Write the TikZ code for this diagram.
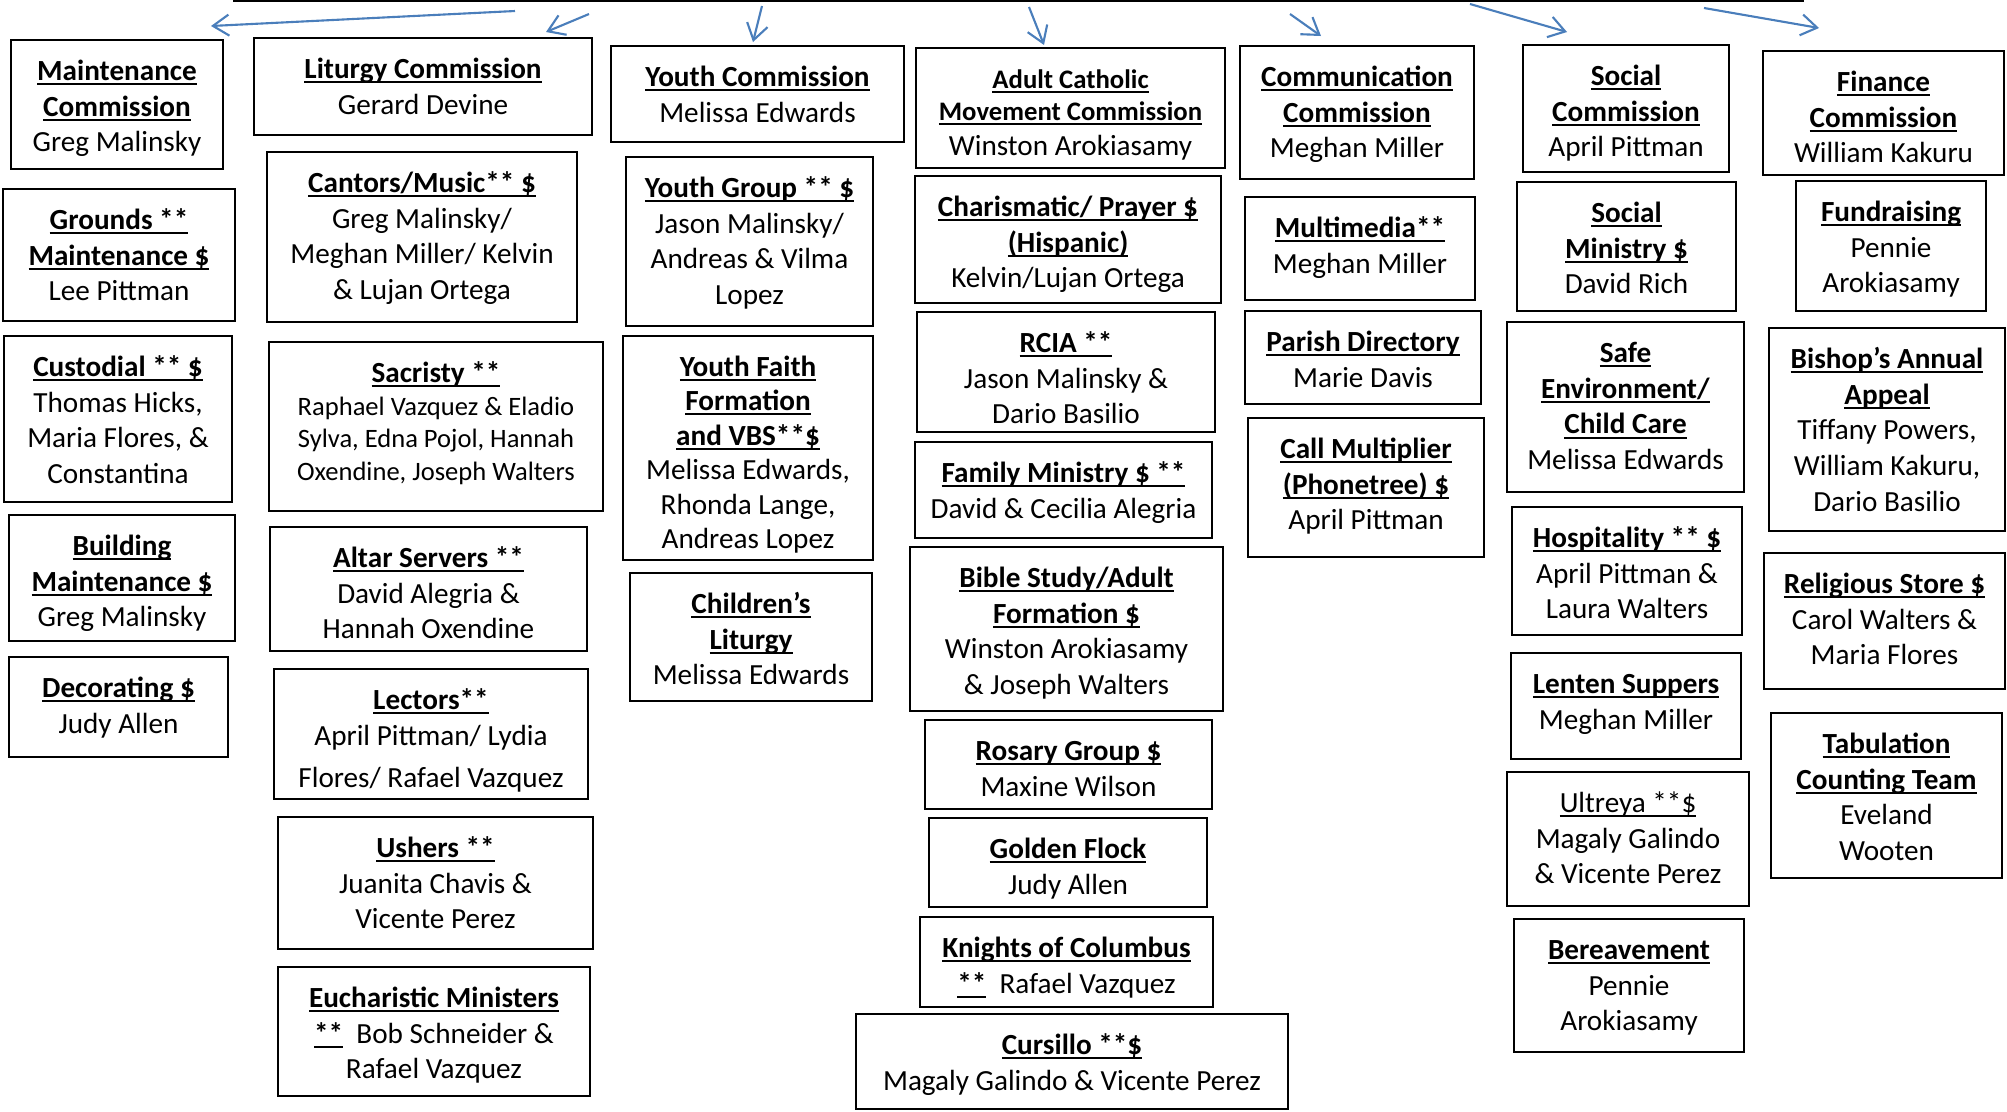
\documentclass[tikz,border=0pt]{standalone}
\usepackage{fontspec}
\setmainfont{Carlito}
\usetikzlibrary{arrows.meta,fit}
\definecolor{arrowblue}{RGB}{74,126,187}
\newcommand\undl[1]{\setbox0=\hbox{#1}\rlap{\rule[-1.3pt]{\wd0}{0.5pt}}\box0}
\newcommand\ut[1]{\undl{\textbf{#1}}}
\newcommand\utr[1]{\undl{#1}}
\newcommand\bx[6]{%
  \node[boxst, fit={(#2,#3)(#4,#5)}] (#1) {};
  \node[txtst, anchor=north] (#1t) at ([yshift=-0.16cm]#1.north) {\rule{0pt}{7pt}#6};
}
\begin{document}
\begin{tikzpicture}[x=0.01cm,y=-0.01cm,
  boxst/.style={draw=black, line width=0.65pt, inner sep=0pt},
  txtst/.style={inner sep=0pt, align=center, font=\fontsize{8.3}{10.2}\selectfont},
  arr/.style={draw=arrowblue, line width=0.6pt, -{Straight Barb[length=1.6mm,width=2.1mm]}},
  topline/.style={draw=black, line width=0.6pt}]
\useasboundingbox (0,0) rectangle (2007,1111);
% top line and arrows
\coordinate (tl) at (233,1);
\coordinate (tr) at (1804,1);
\draw[topline] (tl) -- (tr);
\coordinate (a1s) at (515,11);  \coordinate (a1e) at (211,26);
\coordinate (a2s) at (589,14);  \coordinate (a2e) at (546,32);
\coordinate (a3s) at (762,6);   \coordinate (a3e) at (753,42);
\coordinate (a4s) at (1029,7);  \coordinate (a4e) at (1044,45);
\coordinate (a5s) at (1290,14); \coordinate (a5e) at (1321,36);
\coordinate (a6s) at (1470,4);  \coordinate (a6e) at (1567,32);
\coordinate (a7s) at (1704,8);  \coordinate (a7e) at (1819,28);
\foreach \i in {1,...,7} \draw[arr] (a\i s) -- (a\i e);
% column 1
\bx{mc}{11}{40}{223}{169}{\ut{Maintenance}\\\ut{Commission}\\Greg Malinsky}
\bx{grounds}{3}{189}{235}{321}{\ut{Grounds **}\\\ut{Maintenance \$}\\Lee Pittman}
\bx{custodial}{4}{336}{232}{502}{\ut{Custodial ** \$}\\Thomas Hicks,\\Maria Flores, \&\\Constantina}
\bx{building}{9}{515}{235}{641}{\ut{Building}\\\ut{Maintenance \$}\\Greg Malinsky}
\bx{decorating}{9}{657}{228}{757}{\ut{Decorating \$}\\Judy Allen}
% column 2
\bx{liturgy}{254}{38}{592}{135}{\ut{Liturgy Commission}\\Gerard Devine}
\bx{cantors}{267}{152}{577}{322}{\ut{Cantors/Music** \$}\\Greg Malinsky/\\Meghan Miller/ Kelvin\\\& Lujan Ortega}
\bx{sacristy}{269}{342}{603}{511}{\ut{Sacristy **}\\[-0.8pt]{\fontsize{7.55}{9.3}\selectfont Raphael Vazquez \& Eladio}\\[-0.9pt]{\fontsize{7.55}{9.3}\selectfont Sylva, Edna Pojol, Hannah}\\[-0.9pt]{\fontsize{7.55}{9.3}\selectfont Oxendine, Joseph Walters}}
\bx{altar}{270}{527}{587}{651}{\ut{Altar Servers **}\\David Alegria \&\\Hannah Oxendine}
\bx{lectors}{274}{669}{588}{799}{\ut{Lectors**}\\April Pittman/ Lydia\\[1.8pt]Flores/ Rafael Vazquez}
\bx{ushers}{278}{817}{593}{949}{\ut{Ushers **}\\Juanita Chavis \&\\Vicente Perez}
\bx{eucharistic}{278}{967}{590}{1096}{\ut{Eucharistic Ministers}\\\ut{**}\ \ Bob Schneider \&\\Rafael Vazquez}
% column 3
\bx{youthc}{611}{46}{904}{142}{\ut{Youth Commission}\\Melissa Edwards}
\bx{youthg}{626}{157}{873}{326}{\ut{Youth Group ** \$}\\Jason Malinsky/\\Andreas \& Vilma\\Lopez}
\bx{youthf}{623}{336}{873}{560}{\ut{Youth Faith}\\[-0.4pt]\ut{Formation}\\[-0.4pt]\ut{and VBS**\$}\\[-0.4pt]Melissa Edwards,\\[-0.4pt]Rhonda Lange,\\[-0.4pt]Andreas Lopez}
\bx{children}{630}{573}{872}{701}{\ut{Children’s}\\\ut{Liturgy}\\Melissa Edwards}
% column 4
\bx{adult}{916}{48}{1225}{168}{{\fontsize{7.6}{9.2}\selectfont\ut{Adult Catholic}}\\[-1pt]{\fontsize{7.6}{9.2}\selectfont\ut{Movement Commission}}\\[-0.4pt]Winston Arokiasamy}
\bx{charis}{915}{176}{1221}{303}{\ut{Charismatic/ Prayer \$}\\\ut{(Hispanic)}\\Kelvin/Lujan Ortega}
\bx{rcia}{917}{312}{1215}{432}{\ut{RCIA **}\\Jason Malinsky \&\\Dario Basilio}
\bx{family}{915}{442}{1212}{538}{\ut{Family Ministry \$ **}\\David \& Cecilia Alegria}
\bx{bible}{910}{547}{1223}{711}{\ut{Bible Study/Adult}\\\ut{Formation \$}\\Winston Arokiasamy\\\& Joseph Walters}
\bx{rosary}{925}{720}{1212}{809}{\ut{Rosary Group \$}\\Maxine Wilson}
\bx{golden}{929}{818}{1207}{907}{\ut{Golden Flock}\\Judy Allen}
\bx{knights}{920}{917}{1213}{1007}{\ut{Knights of Columbus}\\\ut{**}\ \ Rafael Vazquez}
\bx{cursillo}{856}{1014}{1288}{1109}{\ut{Cursillo **\$}\\Magaly Galindo \& Vicente Perez}
% column 5
\bx{comm}{1240}{46}{1474}{179}{\ut{Communication}\\\ut{Commission}\\Meghan Miller}
\bx{multimedia}{1245}{197}{1475}{300}{\ut{Multimedia**}\\Meghan Miller}
\bx{parish}{1245}{311}{1481}{404}{\ut{Parish Directory}\\Marie Davis}
\bx{call}{1248}{418}{1484}{557}{\ut{Call Multiplier}\\\ut{(Phonetree) \$}\\April Pittman}
% column 6
\bx{socialc}{1523}{45}{1729}{172}{\ut{Social}\\\ut{Commission}\\April Pittman}
\bx{socialm}{1517}{182}{1736}{311}{\ut{Social}\\\ut{Ministry \$}\\David Rich}
\bx{safe}{1507}{322}{1744}{492}{\ut{Safe}\\\ut{Environment/}\\\ut{Child Care}\\Melissa Edwards}
\bx{hosp}{1512}{507}{1742}{635}{\ut{Hospitality ** \$}\\April Pittman \&\\Laura Walters}
\bx{lenten}{1511}{653}{1741}{759}{\ut{Lenten Suppers}\\Meghan Miller}
\bx{ultreya}{1507}{772}{1749}{906}{\utr{Ultreya **\$}\\Magaly Galindo\\\& Vicente Perez}
\bx{bereavement}{1514}{919}{1744}{1052}{\ut{Bereavement}\\Pennie\\Arokiasamy}
% column 7
\bx{finance}{1763}{51}{2004}{175}{\ut{Finance}\\\ut{Commission}\\William Kakuru}
\bx{fund}{1796}{181}{1986}{311}{\ut{Fundraising}\\Pennie\\Arokiasamy}
\bx{bishop}{1769}{328}{2005}{531}{\ut{Bishop’s Annual}\\\ut{Appeal}\\Tiffany Powers,\\William Kakuru,\\Dario Basilio}
\bx{store}{1764}{553}{2005}{689}{\ut{Religious Store \$}\\Carol Walters \&\\Maria Flores}
\bx{tab}{1771}{713}{2002}{878}{\ut{Tabulation}\\\ut{Counting Team}\\Eveland\\Wooten}
\end{tikzpicture}
\end{document}
